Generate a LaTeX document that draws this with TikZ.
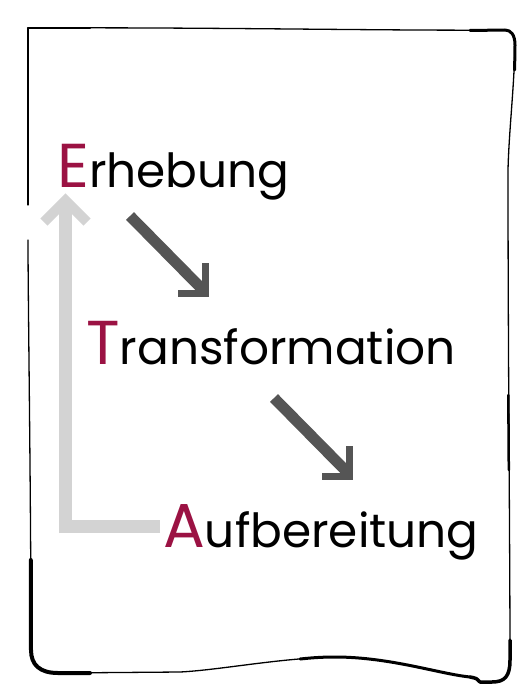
\documentclass[tikz,border=0pt]{standalone}
\usepackage{fontspec}
\setmainfont{Poppins}
\definecolor{wine}{HTML}{9B1243}
\definecolor{darkarrow}{HTML}{555555}
\definecolor{lightarrow}{HTML}{D3D3D3}
\newcommand{\initial}[1]{{\fontsize{62}{62}\selectfont\textcolor{wine}{#1}}}
\tikzset{
  word/.style={anchor=base west, inner sep=0pt, font=\fontsize{47}{47}\selectfont},
  shaftdark/.style={draw=darkarrow, line width=11},
  headdark/.style={draw=darkarrow, line width=7, miter limit=10},
  shaftlight/.style={draw=lightarrow, line width=13},
  headlight/.style={draw=lightarrow, line width=10, miter limit=10},
  frame/.style={draw=black, line cap=round, line join=round, line width=1.3},
  thick frame/.style={frame, line width=3.5},
}
\begin{document}
\begin{tikzpicture}[x=1pt,y=-1pt]
\useasboundingbox (0,0) rectangle (532,698);
% hand-drawn frame
\draw[frame] (28,28) .. controls (200,27) and (400,31) .. (505,30)
  .. controls (511,30) and (515,35) .. (515,45)
  .. controls (514,90) and (509,130) .. (508,170)
  .. controls (508,350) and (510,550) .. (510,660)
  .. controls (510,676) and (505,682) .. (492,682)
  -- (480,682) .. controls (478,679) and (476,678) .. (470,677)
  .. controls (440,674) and (390,657) .. (335,657)
  .. controls (280,658) and (220,670) .. (180,672)
  -- (58,673)
  .. controls (40,673) and (31,665) .. (31,650)
  .. controls (31,500) and (28,300) .. (28,240);
\draw[frame] (28,205) -- (28,28);
\draw[thick frame, line width=2.5] (28,28) -- (90,28);
\draw[thick frame, line width=3] (470,30.5) -- (505,30) .. controls (511,30) and (515,35) .. (515,45) -- (514.6,70);
\draw[thick frame, line width=2.5] (508.3,395) -- (508.8,470);
\draw[thick frame] (510,640) -- (510,660) .. controls (510,676) and (505,682) .. (492,682) -- (480,682) .. controls (478,679) and (476,678) .. (470,677);
\draw[thick frame, line width=3] (470,677) .. controls (440,674) and (390,657) .. (335,657) .. controls (320,657) and (310,658) .. (300,659);
\draw[thick frame, line width=4] (90,673) -- (58,673) .. controls (40,673) and (31,665) .. (31,650) -- (30.8,560);
% words
\node[word] (E) at (57,187) {\initial{E}rhebung};
\node[word] (T) at (86,364) {\initial{T}ransformation};
\node[word] (A) at (163,547) {\initial{A}ufbereitung};
% dark arrows
\coordinate (d1s) at (130,216);
\coordinate (d1e) at (203,290);
\draw[shaftdark] (d1s) -- (d1e);
\draw[headdark] (205.5,263) -- (205.5,293.5) -- (178,293.5);
\coordinate (d2s) at (274,398);
\coordinate (d2e) at (347,472);
\draw[shaftdark] (d2s) -- (d2e);
\draw[headdark] (349.5,446) -- (349.5,476.5) -- (322,476.5);
% light arrow
\coordinate (l1) at (160,526.5);
\coordinate (l2) at (65.5,526.5);
\coordinate (l3) at (65.5,202);
\draw[shaftlight] (l1) -- (59,526.5);
\draw[shaftlight] (l2) ++(0,6.5) -- (l3);
\draw[headlight] (44,222) -- (65.5,200.5) -- (87,222);
\end{tikzpicture}
\end{document}
